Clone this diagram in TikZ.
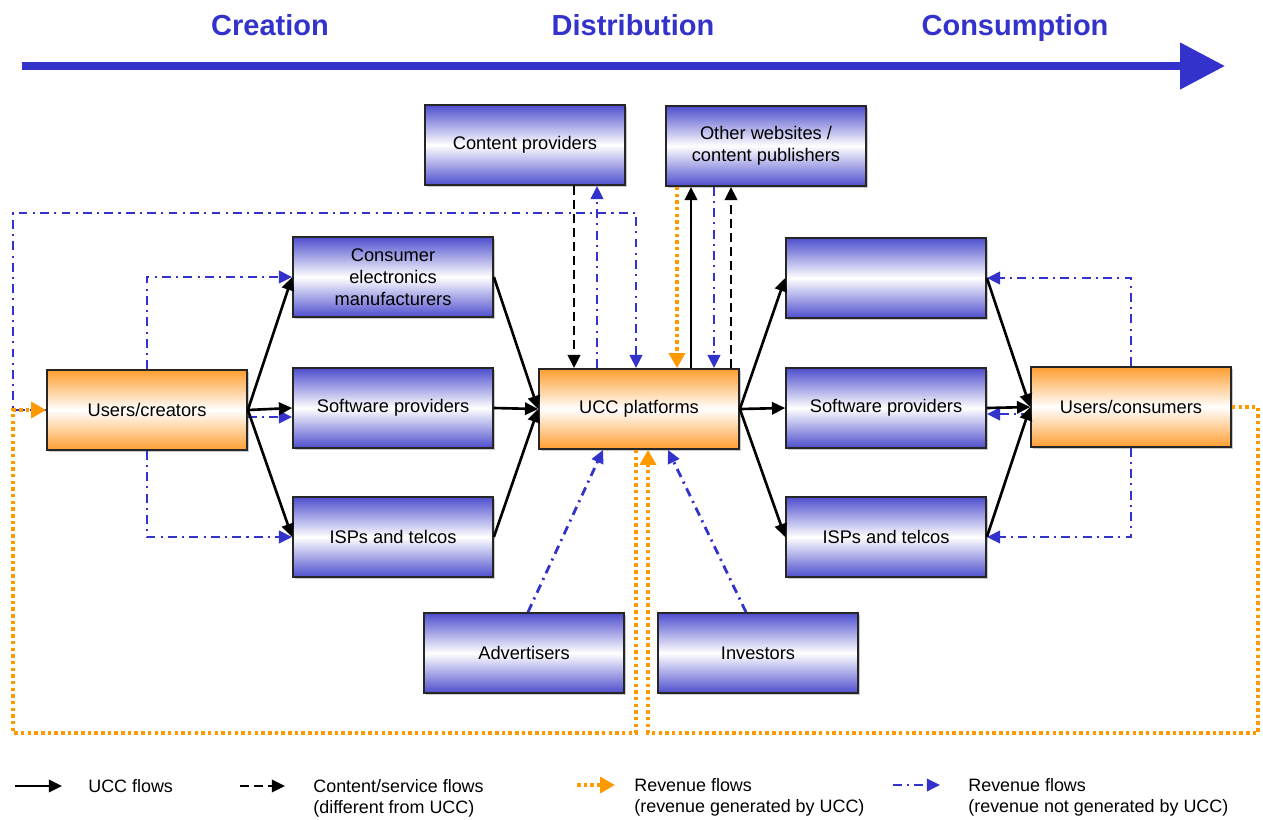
\documentclass[tikz,border=0pt]{standalone}
\usepackage{fontspec}
\setmainfont{Liberation Sans}
\usetikzlibrary{arrows.meta,calc,shadows}

\definecolor{flowblue}{RGB}{51,51,204}
\definecolor{boxblue}{RGB}{78,78,206}
\definecolor{boxorange}{RGB}{255,158,48}
\definecolor{revorange}{RGB}{255,153,0}

\tikzset{
box/.style={draw=black!85, line width=1pt, minimum width=4cm, minimum height=1.6cm,
  inner sep=2pt, align=center, font=\fontsize{10.4}{12.5}\selectfont,
  drop shadow={shadow xshift=1.2pt, shadow yshift=-1.2pt, fill=black!35, opacity=0.6}},
bluebox/.style={box, top color=boxblue, bottom color=boxblue, middle color=white},
orangebox/.style={box, top color=boxorange, bottom color=boxorange, middle color=white},
uccflow/.style={line width=1.5pt, -{Triangle[length=7.5pt,width=7pt]}},
contentflow/.style={uccflow, dash pattern=on 5pt off 3pt},
revflow/.style={revorange, line width=2.1pt, dash pattern=on 2pt off 1.8pt,
  -{Triangle[length=8.5pt,width=9pt]}},
otherflow/.style={flowblue, line width=1.6pt, dash pattern=on 5pt off 3pt on 1.2pt off 3pt,
  -{Triangle[length=7.5pt,width=7pt]}},
stage/.style={anchor=base, text=flowblue, font=\fontsize{16.5}{19}\selectfont\bfseries},
legend/.style={anchor=north west, inner sep=0pt, align=left, font=\fontsize{10.2}{12}\selectfont}
}

\begin{document}
\begin{tikzpicture}[x=0.02cm, y=-0.02cm]

\useasboundingbox (0,0) rectangle (1263,819);

% Stages
\node[stage] (creation) at (270,35) {Creation};
\node[stage] (distribution) at (633,35) {Distribution};
\node[stage] (consumption) at (1015,35) {Consumption};

\draw[flowblue, line width=4.5pt, -{Triangle[length=0.9cm,width=0.9cm]}]
(22,66)
--
(1225,66);

% Actors
\node[orangebox] (creators) at (147,410) {Users/creators};
\node[bluebox] (cem) at (393,277) {Consumer\\electronics\\manufacturers};
\node[bluebox] (softL) at (393,408) {Software providers};
\node[bluebox] (ispL) at (393,537) {ISPs and telcos};
\node[bluebox] (content) at (525,145) {Content providers};
\node[bluebox] (websites) at (766,146) {Other websites /\\content publishers};
\node[orangebox] (ucc) at (639,409) {UCC platforms};
\node[bluebox] (blank) at (886,278) {};
\node[bluebox] (softR) at (886,408) {Software providers};
\node[bluebox] (ispR) at (886,537) {ISPs and telcos};
\node[orangebox] (consumers) at (1131,407) {Users/consumers};
\node[bluebox] (advertisers) at (524,653) {Advertisers};
\node[bluebox] (investors) at (758,653) {Investors};

% Corners of the long loops
\coordinate (loopT) at (13,213);
\coordinate (loopL) at (13,733);
\coordinate (loopR) at (1258,733);

% Revenue not generated by UCC
\draw[otherflow] (creators.north) |- (cem.west);
\draw[otherflow] ($(creators.east)+(0,7)$) -- ($(softL.west)+(0,9)$);
\draw[otherflow] (creators.south) |- (ispL.west);
\draw[otherflow] (creators.west) -| (loopT) -| ($(ucc.north)+(-3,0)$);
\draw[otherflow] ($(ucc.north)+(-42,0)$) -- ($(content.south)+(72,0)$);
\draw[otherflow] ($(websites.south)+(-52,0)$) -- ($(ucc.north)+(75,0)$);
\draw[otherflow] ($(advertisers.north)+(4,0)$) -- ($(ucc.south)+(-36,0)$);
\draw[otherflow] ($(investors.north)+(-12,0)$) -- ($(ucc.south)+(29,0)$);
\draw[otherflow] (consumers.north) |- (blank.east);
\draw[otherflow] ($(consumers.west)+(0,7)$) -- ($(softR.east)+(0,6)$);
\draw[otherflow] (consumers.south) |- (ispR.east);

% Revenue generated by UCC
\draw[revflow] ($(websites.south)+(-89,0)$) -- ($(ucc.north)+(38,0)$);
\draw[revflow] (consumers.east) -| (loopR) -| ($(ucc.south)+(9,0)$);
\draw[revflow] ($(ucc.south)+(-3,0)$) |- (loopL) |- (creators.west);

% Content/service flows
\draw[contentflow] ($(content.south)+(49,0)$) -- ($(ucc.north)+(-65,0)$);
\draw[contentflow] ($(ucc.north)+(92,0)$) -- ($(websites.south)+(-35,0)$);

% UCC flows
\draw[uccflow] (creators.east) -- (cem.west);
\draw[uccflow] (creators.east) -- (softL.west);
\draw[uccflow] (creators.east) -- (ispL.west);
\draw[uccflow] (cem.east) -- (ucc.west);
\draw[uccflow] (softL.east) -- (ucc.west);
\draw[uccflow] (ispL.east) -- (ucc.west);
\draw[uccflow] ($(ucc.north)+(52,0)$) -- ($(websites.south)+(-75,0)$);
\draw[uccflow] (ucc.east) -- (blank.west);
\draw[uccflow] (ucc.east) -- (softR.west);
\draw[uccflow] (ucc.east) -- (ispR.west);
\draw[uccflow] (blank.east) -- (consumers.west);
\draw[uccflow] (softR.east) -- (consumers.west);
\draw[uccflow] (ispR.east) -- (consumers.west);

% Legend
\coordinate (keyA) at (15,786);
\coordinate (keyB) at (62,786);
\coordinate (keyC) at (240,786);
\coordinate (keyD) at (285,786);
\coordinate (keyE) at (577,785);
\coordinate (keyF) at (615,785);
\coordinate (keyG) at (893,785);
\coordinate (keyH) at (940,785);

\draw[uccflow] (keyA) -- (keyB);
\draw[contentflow] (keyC) -- (keyD);
\draw[revflow] (keyE) -- (keyF);
\draw[otherflow] (keyG) -- (keyH);

\node[legend] (keyucc) at (88,779) {UCC flows};
\node[legend] (keycontent) at (313,779) {Content/service flows\\(different from UCC)};
\node[legend] (keyrev) at (634,778) {Revenue flows\\(revenue generated by UCC)};
\node[legend] (keyother) at (968,778) {Revenue flows\\(revenue not generated by UCC)};

\end{tikzpicture}
\end{document}
